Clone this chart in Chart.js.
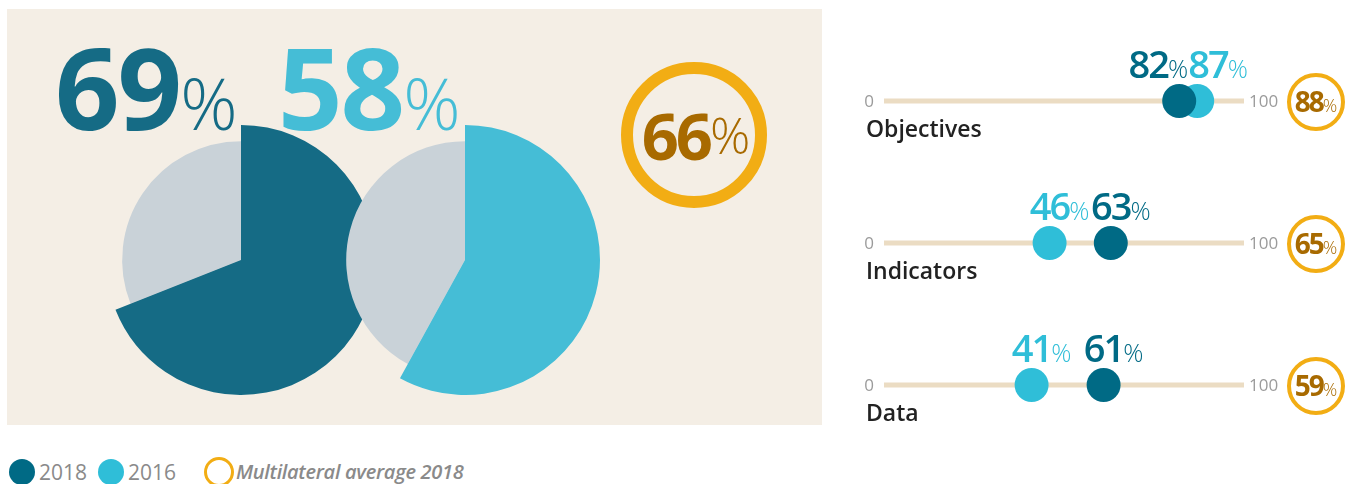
<!DOCTYPE html>
<html>
<head>
<meta charset="utf-8">
<script src="https://cdn.jsdelivr.net/npm/chart.js@4.4.1/dist/chart.umd.min.js"></script>
<style>
  body { margin:0; width:1354px; height:484px; background:#fff; font-family:'Open Sans', sans-serif; position:relative; overflow:hidden; }
  .panel { position:absolute; left:7px; top:9px; width:815px; height:416px; background:#F4EEE5; }
  .box { position:absolute; }
  .big { position:absolute; white-space:nowrap; line-height:1; font-size:113px; }
  .big b { font-weight:700; letter-spacing:-2px; }
  .big i { font-style:normal; font-weight:300; font-size:71px; }
  .avg { position:absolute; left:621px; top:62px; width:146px; height:146px; box-sizing:border-box;
         border:12px solid #F2AD14; border-radius:50%; display:flex; align-items:center; justify-content:center;
         color:#A86A00; white-space:nowrap; line-height:1; padding-left:4px; }
  .avg b { font-size:65px; font-weight:700; letter-spacing:-3px; }
  .avg i { font-style:normal; font-size:50px; font-weight:300; }
  .leg { position:absolute; top:459px; font-size:21px; color:#8a8a8a; line-height:26px; white-space:nowrap; }
  .dot { position:absolute; width:26px; height:26px; border-radius:50%; }
</style>
</head>
<body>
<div class="panel"></div>

<div class="box" style="left:106px;top:125px;width:270px;height:270px;"><canvas id="grey2018"></canvas></div>
<div class="box" style="left:106px;top:125px;width:270px;height:270px;"><canvas id="pie2018"></canvas></div>
<div class="box" style="left:330px;top:125px;width:270px;height:270px;"><canvas id="grey2016"></canvas></div>
<div class="box" style="left:330px;top:125px;width:270px;height:270px;"><canvas id="pie2016"></canvas></div>

<div class="big" id="lbl2018" style="left:55px;top:30px;color:#156B85;"></div>
<div class="big" id="lbl2016" style="left:278px;top:30px;color:#45BDD6;"></div>
<div class="avg" id="lblAvg"></div>

<div class="box" style="left:840px;top:0;width:514px;height:440px;"><canvas id="rows"></canvas></div>

<div class="dot" style="left:9px;top:459px;background:#006A85;"></div>
<div class="leg" style="left:39px;">2018</div>
<div class="dot" style="left:98px;top:459px;background:#2FBED8;"></div>
<div class="leg" style="left:128px;">2016</div>
<div class="dot" style="left:204px;top:457px;width:30px;height:30px;box-sizing:border-box;border:3px solid #F2AD14;"></div>
<div class="leg" style="left:236px;font-style:italic;font-weight:600;font-size:20px;letter-spacing:-0.3px;">Multilateral average 2018</div>

<script>
// overall scores
const overall2018 = 69;
const overall2016 = 58;
const overallAvg = 66;

// per criterion
const rowLabels = ['Objectives', 'Indicators', 'Data'];
const v2018 = [82, 63, 61];
const v2016 = [87, 46, 41];
const avg2018 = [88, 65, 59];
const tickLabels = ['0', '100'];

const DARK = '#006A85', LIGHT = '#2FBED8', GOLD = '#F2AD14', BROWN = '#A86A00';
const PIE_DARK = '#156B85', PIE_LIGHT = '#45BDD6', PIE_GREY = '#C9D2D8';

function setBig(el, v) {
  el.innerHTML = '<b>' + v + '</b><i>%</i>';
}
setBig(document.getElementById('lbl2018'), overall2018);
setBig(document.getElementById('lbl2016'), overall2016);
setBig(document.getElementById('lblAvg'), overallAvg);

const pieOpts = (radius) => ({
  responsive: true, maintainAspectRatio: false, animation: false, events: [],
  radius: radius,
  layout: { padding: 0 },
  plugins: { legend: { display: false }, tooltip: { enabled: false } },
});

function makePie(id, value, color) {
  const rest = 100 - value;
  // grey disc underneath, slightly smaller
  new Chart(document.getElementById('grey' + id), {
    type: 'pie',
    data: { labels: ['score', 'rest'], datasets: [{ data: [value, rest], backgroundColor: PIE_GREY, borderWidth: 0 }] },
    options: pieOpts('88%'),
  });
  // score slice at full radius
  new Chart(document.getElementById('pie' + id), {
    type: 'pie',
    data: { labels: ['score', 'rest'], datasets: [{ data: [value, rest], backgroundColor: [color, 'rgba(0,0,0,0)'], borderWidth: 0 }] },
    options: pieOpts('100%'),
  });
}
makePie('2018', overall2018, PIE_DARK);
makePie('2016', overall2016, PIE_LIGHT);

// labels, end ticks and average rings for each criterion row
const rowDecor = {
  id: 'rowDecor',
  afterDatasetsDraw(chart) {
    const { ctx, scales: { x, y } } = chart;
    const x0 = x.getPixelForValue(0), x100 = x.getPixelForValue(100);
    const numFont = '600 38px "Open Sans"', pctFont = '300 25px "Open Sans"';
    ctx.save();
    rowLabels.forEach((name, i) => {
      const py = y.getPixelForValue(i);

      ctx.font = '17px "Open Sans"';
      ctx.letterSpacing = '0px';
      ctx.fillStyle = '#9b9b9b';
      ctx.textBaseline = 'middle';
      ctx.textAlign = 'right';
      ctx.fillText(tickLabels[0], x0 - 10, py + 1);
      ctx.textAlign = 'left';
      ctx.fillText(tickLabels[1], x100 + 5, py + 1);

      ctx.font = '600 23px "Open Sans"';
      ctx.fillStyle = '#222';
      ctx.textBaseline = 'alphabetic';
      ctx.fillText(name, x0 - 18, py + 36);

      // average ring
      const cx = x100 + 72;
      ctx.beginPath();
      ctx.arc(cx, py + 1, 27, 0, Math.PI * 2);
      ctx.lineWidth = 4;
      ctx.strokeStyle = GOLD;
      ctx.stroke();
      ctx.font = '700 28px "Open Sans"';
      ctx.letterSpacing = '-2px';
      const wn = ctx.measureText(String(avg2018[i])).width;
      ctx.font = '300 18px "Open Sans"';
      ctx.letterSpacing = '0px';
      const wp = ctx.measureText('%').width;
      const sx = cx - (wn + wp) / 2;
      ctx.fillStyle = BROWN;
      ctx.font = '700 28px "Open Sans"';
      ctx.letterSpacing = '-2px';
      ctx.fillText(String(avg2018[i]), sx, py + 11);
      ctx.font = '300 18px "Open Sans"';
      ctx.letterSpacing = '0px';
      ctx.fillText('%', sx + wn, py + 11);

      // value labels above dots, pushed apart when they collide
      const items = [
        { v: v2018[i], c: DARK },
        { v: v2016[i], c: LIGHT },
      ].map(d => {
        ctx.font = numFont;
        ctx.letterSpacing = '-2px';
        const n = ctx.measureText(String(d.v)).width;
        ctx.font = pctFont;
        ctx.letterSpacing = '0px';
        const p = ctx.measureText('%').width;
        const px = x.getPixelForValue(d.v);
        return Object.assign(d, { n, p, px, start: px - n / 2 });
      }).sort((a, b) => a.px - b.px);
      const [a, b] = items;
      if (a.start + a.n + a.p > b.start + 3) {
        const mid = (a.px + b.px) / 2;
        a.start = mid - (a.n + a.p + b.n + b.p) / 2;
        b.start = a.start + a.n + a.p;
      }
      items.forEach(d => {
        ctx.fillStyle = d.c;
        ctx.font = numFont;
        ctx.letterSpacing = '-2px';
        ctx.fillText(String(d.v), d.start, py - 23);
        ctx.font = pctFont;
        ctx.letterSpacing = '0px';
        ctx.fillText('%', d.start + d.n, py - 23);
      });
    });
    ctx.restore();
  },
};

const trackSets = rowLabels.map((name, i) => ({
  type: 'line',
  label: name,
  data: [{ x: 0, y: i }, { x: 100, y: i }],
  borderColor: '#EBDCC3',
  borderWidth: 5,
  pointRadius: 0,
  showLine: true,
  clip: false,
  order: 3,
}));

new Chart(document.getElementById('rows'), {
  type: 'scatter',
  data: {
    datasets: [
      { label: '2018', data: v2018.map((v, i) => ({ x: v, y: i })), backgroundColor: DARK, borderWidth: 0, pointRadius: 17, clip: false, order: 1 },
      { label: '2016', data: v2016.map((v, i) => ({ x: v, y: i })), backgroundColor: LIGHT, borderWidth: 0, pointRadius: 17, clip: false, order: 2 },
      ...trackSets,
    ],
  },
  options: {
    responsive: true, maintainAspectRatio: false, animation: false, events: [],
    layout: { padding: { left: 44, right: 110, top: 101, bottom: 55 } },
    scales: {
      x: { type: 'linear', min: 0, max: 100, display: false },
      y: { type: 'linear', min: 0, max: 2, reverse: true, display: false },
    },
    plugins: { legend: { display: false }, tooltip: { enabled: false } },
  },
  plugins: [rowDecor],
});
</script>
</body>
</html>
